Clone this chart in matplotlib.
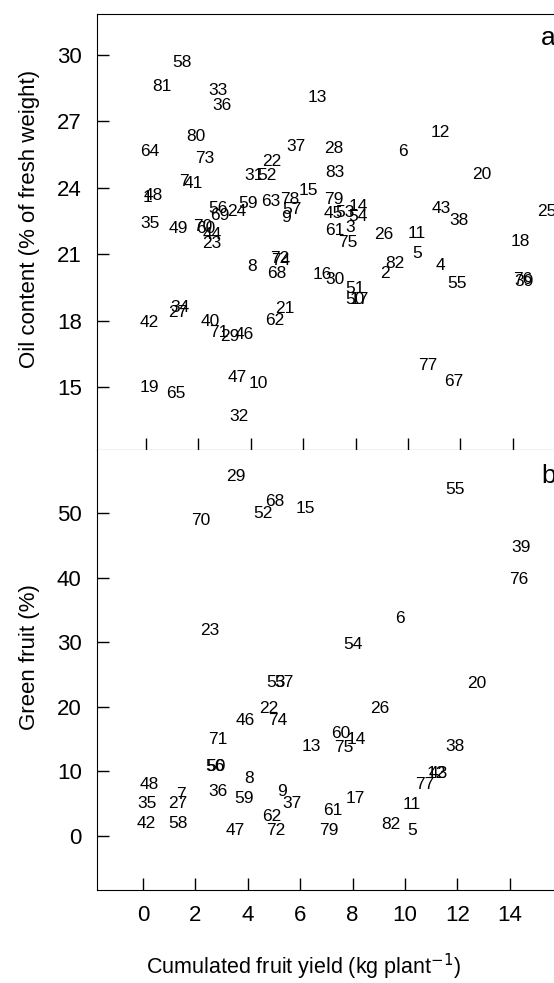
import matplotlib
matplotlib.use('Agg')
import matplotlib.pyplot as plt

plt.rcParams['font.family'] = ['Liberation Sans', 'DejaVu Sans']

# panel a: oil content vs cumulated yield (labels = plant number)
oil_labels = ['58', '81', '33', '36', '13', '80', '64', '73', '37', '22', '52', '31',
              '28', '6', '12', '83', '20', '7', '41', '48', '1', '15', '79', '59',
              '63', '78', '57', '9', '56', '69', '24', '35', '49', '70', '60', '44',
              '23', '45', '53', '14', '54', '61', '3', '75', '26', '11', '43', '38',
              '25', '18', '5', '82', '2', '4', '55', '76', '39', '16', '30', '51',
              '50', '17', '8', '72', '74', '68', '21', '62', '42', '27', '34', '40',
              '71', '29', '46', '47', '10', '19', '65', '32', '77', '67']
oil_x = [1.36, 0.60, 2.76, 2.91, 6.52, 1.91, 0.15, 2.25, 5.71, 4.80, 4.62, 4.12,
         7.15, 9.82, 11.25, 7.21, 12.81, 1.45, 1.79, 0.27, 0.04, 6.19, 7.15, 3.89,
         4.77, 5.50, 5.57, 5.34, 2.76, 2.82, 3.46, 0.15, 1.23, 2.18, 2.29, 2.51,
         2.51, 7.15, 7.60, 8.10, 8.10, 7.21, 7.79, 7.72, 9.06, 10.33, 11.25, 11.96,
         15.29, 14.27, 10.33, 9.50, 9.12, 11.22, 11.86, 14.39, 14.43, 6.72, 7.21, 7.98,
         7.98, 8.13, 4.03, 5.11, 5.15, 4.99, 5.31, 4.92, 0.13, 1.23, 1.30, 2.44,
         2.76, 3.21, 3.74, 3.50, 4.29, 0.13, 1.13, 3.55, 10.77, 11.73]
oil_y = [29.66, 28.55, 28.37, 27.68, 28.07, 26.29, 25.61, 25.32, 25.84, 25.16, 24.56, 24.56,
         25.74, 25.61, 26.49, 24.69, 24.61, 24.27, 24.20, 23.66, 23.57, 23.86, 23.48, 23.26,
         23.37, 23.44, 23.03, 22.67, 23.06, 22.76, 22.91, 22.38, 22.16, 22.24, 22.15, 21.90,
         21.48, 22.84, 22.89, 23.13, 22.68, 22.04, 22.22, 21.54, 21.86, 21.93, 23.06, 22.53,
         22.91, 21.55, 21.03, 20.58, 20.13, 20.50, 19.68, 19.83, 19.74, 20.08, 19.83, 19.45,
         18.93, 18.93, 20.43, 20.81, 20.73, 20.13, 18.55, 18.02, 17.90, 18.35, 18.60, 17.95,
         17.45, 17.30, 17.37, 15.44, 15.17, 14.99, 14.69, 13.66, 15.99, 15.24]

# panel b: green fruit vs cumulated yield
green_labels = ['29', '68', '52', '15', '70', '55', '39', '76', '23', '6', '54', '53',
                '57', '20', '22', '26', '46', '74', '71', '13', '60', '75', '14', '38',
                '56', '50', '12', '43', '8', '48', '77', '36', '9', '7', '59', '17',
                '35', '27', '37', '11', '61', '62', '42', '58', '82', '47', '72', '79', '5']
green_x = [3.54, 5.04, 4.59, 6.18, 2.21, 11.91, 14.45, 14.36, 2.56, 9.81, 8.00, 5.08,
           5.38, 12.74, 4.78, 9.05, 3.89, 5.13, 2.85, 6.44, 7.55, 7.67, 8.13, 11.91,
           2.75, 2.79, 11.18, 11.26, 4.06, 0.24, 10.76, 2.87, 5.29, 1.44, 3.85, 8.09,
           0.14, 1.31, 5.68, 10.26, 7.26, 4.91, 0.11, 1.32, 9.45, 3.51, 5.08, 7.11, 10.26]
green_y = [55.7, 51.8, 49.9, 50.7, 48.8, 53.6, 44.7, 39.7, 31.8, 33.7, 29.7, 23.7,
           23.7, 23.6, 19.8, 19.8, 17.9, 17.9, 14.9, 13.8, 15.9, 13.7, 14.9, 13.8,
           10.8, 10.7, 9.7, 9.7, 8.9, 7.9, 7.9, 6.9, 6.9, 6.4, 5.8, 5.8,
           5.0, 5.0, 5.0, 4.8, 3.9, 3.0, 2.0, 2.0, 1.8, 0.8, 0.8, 0.9, 0.8]

xticks = [0, 2, 4, 6, 8, 10, 12, 14]

fig = plt.figure(figsize=(5.54, 9.83), dpi=100)
ax1 = fig.add_axes([0.1751, 0.5422, 0.8249, 0.4436])
ax2 = fig.add_axes([0.1751, 0.0946, 0.8249, 0.4476])

for ax in (ax1, ax2):
    ax.spines['right'].set_visible(False)
    ax.tick_params(direction='in', length=8.5, width=1, labelsize=16, pad=11)
    ax.set_xticks(xticks)

# panel a
for lab, x, y in zip(oil_labels, oil_x, oil_y):
    ax1.text(x, y, lab, ha='center', va='center', fontsize=12.5)
ax1.set_xlim(-1.87, 15.57)
ax1.set_ylim(12.16, 31.83)
ax1.set_yticks([15, 18, 21, 24, 27, 30])
ax1.tick_params(axis='x', labelbottom=False)
ax1.set_ylabel('Oil content (% of fresh weight)', fontsize=16)
ax1.yaxis.set_label_coords(-0.125, 0.53)
ax1.text(0.988, 0.945, 'a', transform=ax1.transAxes, fontsize=19,
         ha='center', va='center')

# panel b
for lab, x, y in zip(green_labels, green_x, green_y):
    ax2.text(x, y, lab, ha='center', va='center', fontsize=12.5)
ax2.set_xlim(-1.76, 15.69)
ax2.set_ylim(-8.36, 59.75)
ax2.set_yticks([0, 10, 20, 30, 40, 50])
ax2.spines['top'].set_visible(False)
ax2.set_ylabel('Green fruit (%)', fontsize=16)
ax2.yaxis.set_label_coords(-0.125, 0.53)
ax2.set_xlabel('Cumulated fruit yield (kg plant$^{-1}$)', fontsize=15.5)
ax2.xaxis.set_label_coords(0.451, -0.14)
ax2.text(0.988, 0.94, 'b', transform=ax2.transAxes, fontsize=19,
         ha='center', va='center')

fig.savefig('out.png', dpi=100)
